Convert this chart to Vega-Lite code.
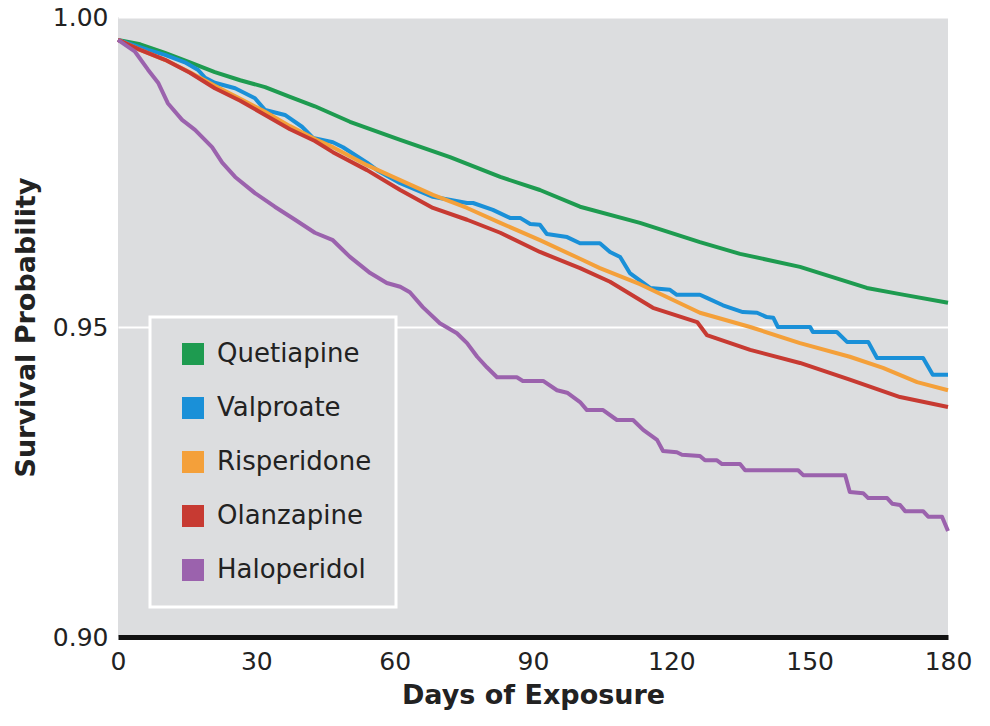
{
  "$schema": "https://vega.github.io/schema/vega-lite/v6.json",
  "width": 830,
  "height": 620,
  "autosize": {"type": "none"},
  "padding": {"left": 118, "top": 17, "right": 42, "bottom": 89},
  "background": "white",
  "config": {
    "font": "DejaVu Sans",
    "view": {"fill": "#dcdddf", "stroke": null}
  },
  "data": {
    "values": [
      {"drug": "Quetiapine", "day": 0, "p": 0.9963},
      {"drug": "Quetiapine", "day": 4.8, "p": 0.9956},
      {"drug": "Quetiapine", "day": 10.2, "p": 0.9942},
      {"drug": "Quetiapine", "day": 15.6, "p": 0.9927},
      {"drug": "Quetiapine", "day": 21.0, "p": 0.9911},
      {"drug": "Quetiapine", "day": 26.5, "p": 0.9898},
      {"drug": "Quetiapine", "day": 31.9, "p": 0.9887},
      {"drug": "Quetiapine", "day": 37.3, "p": 0.9871},
      {"drug": "Quetiapine", "day": 42.7, "p": 0.9856},
      {"drug": "Quetiapine", "day": 50.3, "p": 0.9831},
      {"drug": "Quetiapine", "day": 61.2, "p": 0.9802},
      {"drug": "Quetiapine", "day": 72.0, "p": 0.9774},
      {"drug": "Quetiapine", "day": 82.9, "p": 0.9742},
      {"drug": "Quetiapine", "day": 91.5, "p": 0.9721},
      {"drug": "Quetiapine", "day": 100.2, "p": 0.9694},
      {"drug": "Quetiapine", "day": 113.2, "p": 0.9668},
      {"drug": "Quetiapine", "day": 126.2, "p": 0.9637},
      {"drug": "Quetiapine", "day": 134.9, "p": 0.9618},
      {"drug": "Quetiapine", "day": 147.9, "p": 0.9597},
      {"drug": "Quetiapine", "day": 162.4, "p": 0.9563},
      {"drug": "Quetiapine", "day": 169.6, "p": 0.9553},
      {"drug": "Quetiapine", "day": 180, "p": 0.9539},

      {"drug": "Valproate", "day": 0, "p": 0.9963},
      {"drug": "Valproate", "day": 6.5, "p": 0.9947},
      {"drug": "Valproate", "day": 10.2, "p": 0.9939},
      {"drug": "Valproate", "day": 14.5, "p": 0.9927},
      {"drug": "Valproate", "day": 17.3, "p": 0.9915},
      {"drug": "Valproate", "day": 18.9, "p": 0.9902},
      {"drug": "Valproate", "day": 21.0, "p": 0.9894},
      {"drug": "Valproate", "day": 25.4, "p": 0.9885},
      {"drug": "Valproate", "day": 29.7, "p": 0.9869},
      {"drug": "Valproate", "day": 31.9, "p": 0.9850},
      {"drug": "Valproate", "day": 36.2, "p": 0.9842},
      {"drug": "Valproate", "day": 39.9, "p": 0.9823},
      {"drug": "Valproate", "day": 42.3, "p": 0.9805},
      {"drug": "Valproate", "day": 46.6, "p": 0.9798},
      {"drug": "Valproate", "day": 48.8, "p": 0.9790},
      {"drug": "Valproate", "day": 54.0, "p": 0.9765},
      {"drug": "Valproate", "day": 56.2, "p": 0.9753},
      {"drug": "Valproate", "day": 61.2, "p": 0.9732},
      {"drug": "Valproate", "day": 68.3, "p": 0.9710},
      {"drug": "Valproate", "day": 75.7, "p": 0.9700},
      {"drug": "Valproate", "day": 77.0, "p": 0.9700},
      {"drug": "Valproate", "day": 81.3, "p": 0.9689},
      {"drug": "Valproate", "day": 85.0, "p": 0.9676},
      {"drug": "Valproate", "day": 87.2, "p": 0.9676},
      {"drug": "Valproate", "day": 89.4, "p": 0.9666},
      {"drug": "Valproate", "day": 91.5, "p": 0.9665},
      {"drug": "Valproate", "day": 93.0, "p": 0.9650},
      {"drug": "Valproate", "day": 97.4, "p": 0.9645},
      {"drug": "Valproate", "day": 100.2, "p": 0.9635},
      {"drug": "Valproate", "day": 104.5, "p": 0.9635},
      {"drug": "Valproate", "day": 106.7, "p": 0.9621},
      {"drug": "Valproate", "day": 108.9, "p": 0.9613},
      {"drug": "Valproate", "day": 111.0, "p": 0.9587},
      {"drug": "Valproate", "day": 115.4, "p": 0.9563},
      {"drug": "Valproate", "day": 119.7, "p": 0.9560},
      {"drug": "Valproate", "day": 121.2, "p": 0.9552},
      {"drug": "Valproate", "day": 126.2, "p": 0.9552},
      {"drug": "Valproate", "day": 127.7, "p": 0.9547},
      {"drug": "Valproate", "day": 131.2, "p": 0.9535},
      {"drug": "Valproate", "day": 135.5, "p": 0.9524},
      {"drug": "Valproate", "day": 138.6, "p": 0.9523},
      {"drug": "Valproate", "day": 140.7, "p": 0.9516},
      {"drug": "Valproate", "day": 142.1, "p": 0.9515},
      {"drug": "Valproate", "day": 143.1, "p": 0.9500},
      {"drug": "Valproate", "day": 150.1, "p": 0.9500},
      {"drug": "Valproate", "day": 150.7, "p": 0.9492},
      {"drug": "Valproate", "day": 155.9, "p": 0.9492},
      {"drug": "Valproate", "day": 158.1, "p": 0.9476},
      {"drug": "Valproate", "day": 162.7, "p": 0.9476},
      {"drug": "Valproate", "day": 164.6, "p": 0.9450},
      {"drug": "Valproate", "day": 174.6, "p": 0.9450},
      {"drug": "Valproate", "day": 176.7, "p": 0.9423},
      {"drug": "Valproate", "day": 180, "p": 0.9423},

      {"drug": "Risperidone", "day": 0, "p": 0.9963},
      {"drug": "Risperidone", "day": 4.8, "p": 0.9947},
      {"drug": "Risperidone", "day": 10.2, "p": 0.9931},
      {"drug": "Risperidone", "day": 15.6, "p": 0.9911},
      {"drug": "Risperidone", "day": 21.0, "p": 0.9889},
      {"drug": "Risperidone", "day": 26.5, "p": 0.9868},
      {"drug": "Risperidone", "day": 31.9, "p": 0.9847},
      {"drug": "Risperidone", "day": 37.3, "p": 0.9824},
      {"drug": "Risperidone", "day": 42.7, "p": 0.9803},
      {"drug": "Risperidone", "day": 46.6, "p": 0.9790},
      {"drug": "Risperidone", "day": 54.0, "p": 0.9761},
      {"drug": "Risperidone", "day": 61.2, "p": 0.9737},
      {"drug": "Risperidone", "day": 68.3, "p": 0.9713},
      {"drug": "Risperidone", "day": 75.7, "p": 0.9692},
      {"drug": "Risperidone", "day": 82.9, "p": 0.9668},
      {"drug": "Risperidone", "day": 91.5, "p": 0.9640},
      {"drug": "Risperidone", "day": 100.2, "p": 0.9610},
      {"drug": "Risperidone", "day": 104.5, "p": 0.9595},
      {"drug": "Risperidone", "day": 113.2, "p": 0.9569},
      {"drug": "Risperidone", "day": 126.2, "p": 0.9523},
      {"drug": "Risperidone", "day": 137.1, "p": 0.9500},
      {"drug": "Risperidone", "day": 147.9, "p": 0.9474},
      {"drug": "Risperidone", "day": 158.7, "p": 0.9452},
      {"drug": "Risperidone", "day": 165.9, "p": 0.9434},
      {"drug": "Risperidone", "day": 173.3, "p": 0.9411},
      {"drug": "Risperidone", "day": 180, "p": 0.9398},

      {"drug": "Olanzapine", "day": 0, "p": 0.9963},
      {"drug": "Olanzapine", "day": 4.8, "p": 0.9947},
      {"drug": "Olanzapine", "day": 10.2, "p": 0.9931},
      {"drug": "Olanzapine", "day": 15.6, "p": 0.9910},
      {"drug": "Olanzapine", "day": 21.0, "p": 0.9885},
      {"drug": "Olanzapine", "day": 26.5, "p": 0.9865},
      {"drug": "Olanzapine", "day": 31.9, "p": 0.9842},
      {"drug": "Olanzapine", "day": 37.3, "p": 0.9819},
      {"drug": "Olanzapine", "day": 42.7, "p": 0.9800},
      {"drug": "Olanzapine", "day": 46.6, "p": 0.9782},
      {"drug": "Olanzapine", "day": 54.0, "p": 0.9753},
      {"drug": "Olanzapine", "day": 61.2, "p": 0.9721},
      {"drug": "Olanzapine", "day": 68.3, "p": 0.9692},
      {"drug": "Olanzapine", "day": 75.7, "p": 0.9673},
      {"drug": "Olanzapine", "day": 82.9, "p": 0.9652},
      {"drug": "Olanzapine", "day": 91.5, "p": 0.9621},
      {"drug": "Olanzapine", "day": 100.2, "p": 0.9595},
      {"drug": "Olanzapine", "day": 106.7, "p": 0.9573},
      {"drug": "Olanzapine", "day": 116.0, "p": 0.9531},
      {"drug": "Olanzapine", "day": 125.6, "p": 0.9508},
      {"drug": "Olanzapine", "day": 127.7, "p": 0.9487},
      {"drug": "Olanzapine", "day": 137.1, "p": 0.9463},
      {"drug": "Olanzapine", "day": 147.9, "p": 0.9442},
      {"drug": "Olanzapine", "day": 158.7, "p": 0.9415},
      {"drug": "Olanzapine", "day": 169.6, "p": 0.9387},
      {"drug": "Olanzapine", "day": 180, "p": 0.9371},

      {"drug": "Haloperidol", "day": 0, "p": 0.9963},
      {"drug": "Haloperidol", "day": 3.7, "p": 0.9944},
      {"drug": "Haloperidol", "day": 6.5, "p": 0.9915},
      {"drug": "Haloperidol", "day": 8.7, "p": 0.9894},
      {"drug": "Haloperidol", "day": 10.8, "p": 0.9861},
      {"drug": "Haloperidol", "day": 13.9, "p": 0.9834},
      {"drug": "Haloperidol", "day": 16.7, "p": 0.9818},
      {"drug": "Haloperidol", "day": 20.4, "p": 0.9790},
      {"drug": "Haloperidol", "day": 22.6, "p": 0.9765},
      {"drug": "Haloperidol", "day": 25.4, "p": 0.9742},
      {"drug": "Haloperidol", "day": 29.7, "p": 0.9716},
      {"drug": "Haloperidol", "day": 34.0, "p": 0.9694},
      {"drug": "Haloperidol", "day": 38.4, "p": 0.9673},
      {"drug": "Haloperidol", "day": 42.7, "p": 0.9652},
      {"drug": "Haloperidol", "day": 46.6, "p": 0.9640},
      {"drug": "Haloperidol", "day": 50.3, "p": 0.9613},
      {"drug": "Haloperidol", "day": 54.7, "p": 0.9587},
      {"drug": "Haloperidol", "day": 58.3, "p": 0.9571},
      {"drug": "Haloperidol", "day": 61.2, "p": 0.9565},
      {"drug": "Haloperidol", "day": 63.3, "p": 0.9556},
      {"drug": "Haloperidol", "day": 66.1, "p": 0.9532},
      {"drug": "Haloperidol", "day": 69.8, "p": 0.9506},
      {"drug": "Haloperidol", "day": 73.5, "p": 0.9490},
      {"drug": "Haloperidol", "day": 75.7, "p": 0.9474},
      {"drug": "Haloperidol", "day": 77.9, "p": 0.9452},
      {"drug": "Haloperidol", "day": 80.0, "p": 0.9435},
      {"drug": "Haloperidol", "day": 82.2, "p": 0.9419},
      {"drug": "Haloperidol", "day": 86.5, "p": 0.9419},
      {"drug": "Haloperidol", "day": 87.8, "p": 0.9413},
      {"drug": "Haloperidol", "day": 92.2, "p": 0.9413},
      {"drug": "Haloperidol", "day": 95.2, "p": 0.9398},
      {"drug": "Haloperidol", "day": 97.4, "p": 0.9394},
      {"drug": "Haloperidol", "day": 100.2, "p": 0.9379},
      {"drug": "Haloperidol", "day": 101.7, "p": 0.9366},
      {"drug": "Haloperidol", "day": 105.2, "p": 0.9366},
      {"drug": "Haloperidol", "day": 108.2, "p": 0.9350},
      {"drug": "Haloperidol", "day": 111.7, "p": 0.9350},
      {"drug": "Haloperidol", "day": 113.9, "p": 0.9334},
      {"drug": "Haloperidol", "day": 116.9, "p": 0.9318},
      {"drug": "Haloperidol", "day": 118.2, "p": 0.9300},
      {"drug": "Haloperidol", "day": 121.2, "p": 0.9298},
      {"drug": "Haloperidol", "day": 122.3, "p": 0.9294},
      {"drug": "Haloperidol", "day": 126.2, "p": 0.9292},
      {"drug": "Haloperidol", "day": 127.3, "p": 0.9285},
      {"drug": "Haloperidol", "day": 129.9, "p": 0.9285},
      {"drug": "Haloperidol", "day": 131.0, "p": 0.9279},
      {"drug": "Haloperidol", "day": 134.9, "p": 0.9279},
      {"drug": "Haloperidol", "day": 136.0, "p": 0.9269},
      {"drug": "Haloperidol", "day": 147.5, "p": 0.9269},
      {"drug": "Haloperidol", "day": 148.6, "p": 0.9261},
      {"drug": "Haloperidol", "day": 157.7, "p": 0.9261},
      {"drug": "Haloperidol", "day": 158.7, "p": 0.9234},
      {"drug": "Haloperidol", "day": 161.6, "p": 0.9232},
      {"drug": "Haloperidol", "day": 162.7, "p": 0.9224},
      {"drug": "Haloperidol", "day": 166.8, "p": 0.9224},
      {"drug": "Haloperidol", "day": 167.9, "p": 0.9215},
      {"drug": "Haloperidol", "day": 169.6, "p": 0.9213},
      {"drug": "Haloperidol", "day": 170.7, "p": 0.9203},
      {"drug": "Haloperidol", "day": 174.6, "p": 0.9203},
      {"drug": "Haloperidol", "day": 175.7, "p": 0.9194},
      {"drug": "Haloperidol", "day": 178.7, "p": 0.9194},
      {"drug": "Haloperidol", "day": 180, "p": 0.9171}
    ]
  },
  "mark": {"type": "line", "strokeWidth": 4, "interpolate": "linear", "strokeJoin": "round"},
  "encoding": {
    "x": {
      "field": "day",
      "type": "quantitative",
      "scale": {"domain": [0, 180], "nice": false},
      "axis": {
        "values": [0, 30, 60, 90, 120, 150, 180],
        "title": "Days of Exposure",
        "titleFontSize": 27,
        "titleFontWeight": "bold",
        "titleColor": "#222222",
        "titlePadding": 8,
        "labelFontSize": 25,
        "labelColor": "#222222",
        "labelPadding": 12,
        "labelFlush": false,
        "ticks": false,
        "grid": false,
        "domain": true,
        "domainColor": "#111111",
        "domainWidth": 5
      }
    },
    "y": {
      "field": "p",
      "type": "quantitative",
      "scale": {"domain": [0.9, 1.0], "nice": false, "zero": false},
      "axis": {
        "values": [0.9, 0.95, 1.0],
        "format": ".2f",
        "title": "Survival Probability",
        "titleFontSize": 27,
        "titleFontWeight": "bold",
        "titleColor": "#222222",
        "titlePadding": 12,
        "labelFontSize": 25,
        "labelColor": "#222222",
        "labelPadding": 10,
        "labelFlush": false,
        "ticks": false,
        "domain": false,
        "grid": true,
        "gridColor": "white",
        "gridWidth": 2,
        "gridOpacity": 1
      }
    },
    "color": {
      "field": "drug",
      "type": "nominal",
      "sort": ["Quetiapine", "Valproate", "Risperidone", "Olanzapine", "Haloperidol"],
      "scale": {
        "domain": ["Quetiapine", "Valproate", "Risperidone", "Olanzapine", "Haloperidol"],
        "range": ["#1e9b50", "#1a90d8", "#f4a03a", "#c73a32", "#9b62ad"]
      },
      "legend": {
        "title": null,
        "orient": "none",
        "legendX": 32,
        "legendY": 300,
        "direction": "vertical",
        "padding": 24,
        "strokeColor": "white",
        "fillColor": "#dcdddf",
        "symbolType": "square",
        "symbolSize": 484,
        "symbolStrokeWidth": 0,
        "symbolOffset": 6,
        "labelFontSize": 26,
        "labelColor": "#222222",
        "labelOffset": 11,
        "rowPadding": 28,
        "labelLimit": 300,
        "encode": {
          "legend": {
            "update": {
              "strokeWidth": {"value": 3}
            }
          },
          "symbols": {
            "update": {
              "fill": {"scale": "color", "field": "value"},
              "fillOpacity": {"value": 1},
              "strokeWidth": {"value": 0}
            }
          }
        }
      }
    }
  }
}
